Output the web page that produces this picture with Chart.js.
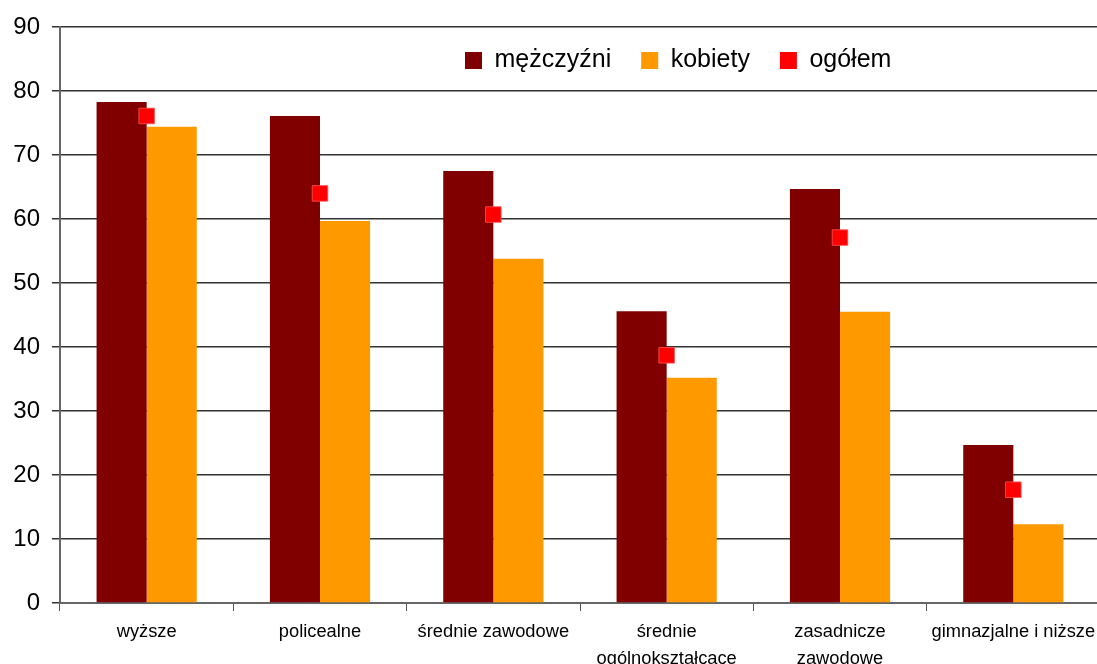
<!DOCTYPE html>
<html>
<head>
<meta charset="utf-8">
<script src="https://cdn.jsdelivr.net/npm/chart.js@4"></script>
<style>
    html, body { margin: 0; padding: 0; background: #fff; overflow: hidden; }
    #wrap { width: 1112px; height: 664px; }
</style>
</head>
<body>
<div id="wrap"><canvas id="c"></canvas></div>
<script>
const categories = [
    'wyższe',
    'policealne',
    'średnie zawodowe',
    ['średnie', 'ogólnokształcące'],
    ['zasadnicze', 'zawodowe'],
    'gimnazjalne i niższe'
];
const men = [78.3, 76.1, 67.5, 45.6, 64.7, 24.7];
const women = [74.4, 59.7, 53.8, 35.2, 45.5, 12.3];
const total = [76.1, 64.0, 60.7, 38.7, 57.1, 17.7];
const yTicks = [0, 10, 20, 30, 40, 50, 60, 70, 80, 90];

const font = '"Liberation Sans", Arial, sans-serif';

// legend drawn in one row inside the plot, a bit right of centre
const legendInPlot = {
    id: 'legendInPlot',
    beforeLayout(chart) {
        if (chart.legend) {
            chart.legend.isHorizontal = () => true;
        }
    },
    afterLayout(chart) {
        const l = chart.legend;
        const w = l.right - l.left;
        l.left = chart.chartArea.left + 375;
        l.right = l.left + w;
        l.top = chart.chartArea.top - 9;
    }
};

new Chart(document.getElementById('c').getContext('2d'), {
    type: 'bar',
    data: {
        labels: categories,
        datasets: [
            {
                label: 'mężczyźni',
                data: men,
                backgroundColor: '#800000',
                borderWidth: 0,
                order: 1
            },
            {
                label: 'kobiety',
                data: women,
                backgroundColor: '#FF9900',
                borderWidth: 0,
                order: 1
            },
            {
                type: 'line',
                label: 'ogółem',
                data: total,
                showLine: false,
                backgroundColor: '#FF0000',
                borderColor: '#FF0000',
                borderWidth: 0,
                pointStyle: 'rect',
                pointRadius: 11,
                pointBorderWidth: 1,
                pointBorderColor: 'rgba(255,80,80,0.8)',
                pointBackgroundColor: '#FF0000',
                order: 0
            }
        ]
    },
    options: {
        responsive: true,
        maintainAspectRatio: false,
        animation: false,
        layout: {
            padding: { top: 27, right: 0, bottom: 0, left: 0 }
        },
        datasets: {
            bar: {
                categoryPercentage: 0.578,
                barPercentage: 1
            }
        },
        plugins: {
            tooltip: { enabled: false },
            legend: {
                position: 'chartArea',
                align: 'start',
                labels: {
                    boxWidth: 17,
                    boxHeight: 17,
                    padding: 30,
                    color: '#000',
                    font: { family: font, size: 25 },
                    sort: (a, b) => a.datasetIndex - b.datasetIndex
                }
            }
        },
        scales: {
            x: {
                grid: {
                    offset: true,
                    drawOnChartArea: false,
                    drawTicks: true,
                    tickLength: 8,
                    color: '#555',
                    lineWidth: 1
                },
                border: { color: '#666', width: 2 },
                ticks: {
                    color: '#000',
                    padding: 8,
                    maxRotation: 0,
                    autoSkip: false,
                    font: { family: font, size: 18.3, lineHeight: 1.45 }
                },
                afterFit(scale) {
                    scale.height = 61;
                }
            },
            y: {
                min: 0,
                max: 90,
                afterBuildTicks(scale) {
                    scale.ticks = yTicks.map((v) => ({ value: v }));
                },
                grid: {
                    color: '#333',
                    lineWidth: 1.5,
                    tickLength: 8
                },
                border: { color: '#666', width: 2 },
                ticks: {
                    color: '#000',
                    padding: 12,
                    font: { family: font, size: 24 }
                },
                afterFit(scale) {
                    scale.width = 60;
                }
            }
        }
    },
    plugins: [legendInPlot]
});
</script>
</body>
</html>
